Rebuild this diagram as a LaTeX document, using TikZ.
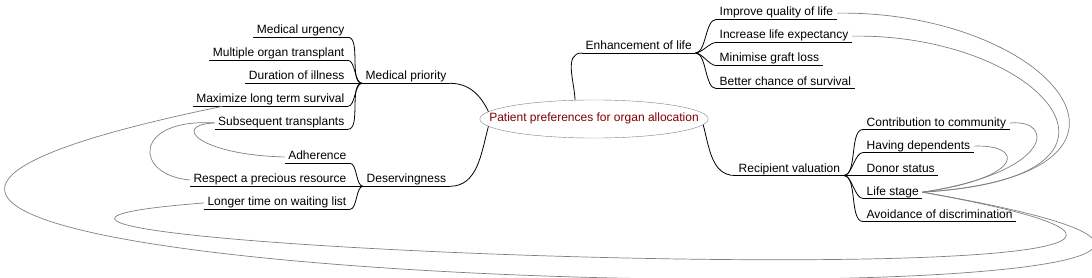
\documentclass[tikz,border=0pt]{standalone}
\usepackage{fontspec}
\setmainfont{Liberation Sans}
\usepackage{xcolor}
\usetikzlibrary{shapes.geometric}
\definecolor{rootred}{RGB}{128,0,0}
\definecolor{linkgray}{RGB}{128,128,128}

\begin{document}
\begin{tikzpicture}[
  x=1pt, y=-1pt,
  font=\fontsize{12}{14}\selectfont,
  topic/.style={inner xsep=3.5pt, inner ysep=0pt, text height=9pt, text depth=3.3pt},
  leaf/.style={topic, anchor=south west},
  leftleaf/.style={topic, anchor=south east},
  central/.style={ellipse, draw=linkgray, fill=white, text=rootred, text height=9pt, text depth=3.3pt, inner xsep=-24pt, inner ysep=7.3pt},
  uline/.style={line width=0.8pt},
  branch/.style={line width=0.8pt, looseness=0.7},
  link/.style={draw=linkgray, line width=0.7pt}
]
\useasboundingbox (0,0) rectangle (1092,278);

\node[central] (root) at (594,119) {Patient preferences for organ allocation};

\node[leaf] (medprio) at (362,83.3) {Medical priority};
\node[leftleaf] (medurg) at (348,37.3) {Medical urgency};
\node[leftleaf] (multorg) at (348,60.3) {Multiple organ transplant};
\node[leftleaf] (duration) at (348,83.3) {Duration of illness};
\node[leftleaf] (maxim) at (348,106.3) {Maximize long term survival};
\node[leftleaf] (subseq) at (348,129.3) {Subsequent transplants};

\node[leaf] (deserv) at (363,186.3) {Deservingness};
\node[leftleaf] (adher) at (350,163.3) {Adherence};
\node[leftleaf] (respect) at (350,186.3) {Respect a precious resource};
\node[leftleaf] (longer) at (350,209.3) {Longer time on waiting list};

\node[leaf] (enh) at (582,53) {Enhancement of life};
\node[leaf] (improve) at (716,19.5) {Improve quality of life};
\node[leaf] (increase) at (716,42.5) {Increase life expectancy};
\node[leaf] (minimise) at (716,65.5) {Minimise graft loss};
\node[leaf] (better) at (716,88.5) {Better chance of survival};

\node[leaf] (recip) at (735,175.5) {Recipient valuation};
\node[leaf] (contrib) at (863,129.5) {Contribution to community};
\node[leaf] (having) at (863,152.5) {Having dependents};
\node[leaf] (donor) at (863,175.5) {Donor status};
\node[leaf] (lifest) at (863,198.5) {Life stage};
\node[leaf] (avoid) at (863,221.5) {Avoidance of discrimination};

\draw[uline] (medprio.south west) -- (medprio.south east);
\draw[uline] (medurg.south west) -- (medurg.south east);
\draw[uline] (multorg.south west) -- (multorg.south east);
\draw[uline] (duration.south west) -- (duration.south east);
\draw[uline] (maxim.south west) -- (maxim.south east);
\draw[uline] (subseq.south west) -- (subseq.south east);
\draw[uline] (deserv.south west) -- (deserv.south east);
\draw[uline] (adher.south west) -- (adher.south east);
\draw[uline] (respect.south west) -- (respect.south east);
\draw[uline] (longer.south west) -- (longer.south east);
\draw[uline] (enh.south west) -- (enh.south east);
\draw[uline] (improve.south west) -- (improve.south east);
\draw[uline] (increase.south west) -- (increase.south east);
\draw[uline] (minimise.south west) -- (minimise.south east);
\draw[uline] (better.south west) -- (better.south east);
\draw[uline] (recip.south west) -- (recip.south east);
\draw[uline] (contrib.south west) -- (contrib.south east);
\draw[uline] (having.south west) -- (having.south east);
\draw[uline] (donor.south west) -- (donor.south east);
\draw[uline] (lifest.south west) -- (lifest.south east);
\draw[uline] (avoid.south west) -- (avoid.south east);

\draw[branch] (medprio.south east) to[out=0, in=115, looseness=1] (root.176);
\draw[branch] (deserv.south east) to[out=0, in=-105, looseness=1] (root.184);
\draw[branch] (root.135) to[out=92, in=180, looseness=1] (enh.south west);
\draw[branch] (root.-3) to[out=-75, in=180, looseness=1] (recip.south west);

\draw[branch] (medurg.south east) to[out=0, in=180] (medprio.south west);
\draw[branch] (multorg.south east) to[out=0, in=180] (medprio.south west);
\draw[branch] (duration.south east) -- (medprio.south west);
\draw[branch] (maxim.south east) to[out=0, in=180] (medprio.south west);
\draw[branch] (subseq.south east) to[out=0, in=180] (medprio.south west);

\draw[branch] (adher.south east) to[out=0, in=180] (deserv.south west);
\draw[branch] (respect.south east) -- (deserv.south west);
\draw[branch] (longer.south east) to[out=0, in=180] (deserv.south west);

\draw[branch] (enh.south east) to[out=0, in=180] (improve.south west);
\draw[branch] (enh.south east) to[out=0, in=180] (increase.south west);
\draw[branch] (enh.south east) to[out=0, in=180] (minimise.south west);
\draw[branch] (enh.south east) to[out=0, in=180] (better.south west);

\draw[branch] (recip.south east) to[out=0, in=180] (contrib.south west);
\draw[branch] (recip.south east) to[out=0, in=180] (having.south west);
\draw[branch] (recip.south east) -- (donor.south west);
\draw[branch] (recip.south east) to[out=0, in=180] (lifest.south west);
\draw[branch] (recip.south east) to[out=0, in=180] (avoid.south west);

\draw[link] (improve.east) .. controls (1050,10) and (1190,175) .. (lifest.east);
\draw[link] (increase.east) .. controls (1040,33) and (1170,178) .. (lifest.east);
\draw[link] (contrib.east) .. controls (1055,118) and (1055,172) .. (lifest.east);
\draw[link] (having.east) .. controls (1025,144) and (1025,178) .. (lifest.east);
\draw[link] (lifest.east) .. controls (1590,313) and (-310,243) .. (longer.west);
\draw[link] (lifest.east) .. controls (1750,335) and (-720,300) .. ([xshift=30pt]maxim.south west);
\draw[link] (subseq.west) .. controls (133,118) and (133,175) .. (respect.west);
\draw[link] (adher.west) .. controls (200,155) and (170,125) .. (subseq.west);
\end{tikzpicture}
\end{document}
